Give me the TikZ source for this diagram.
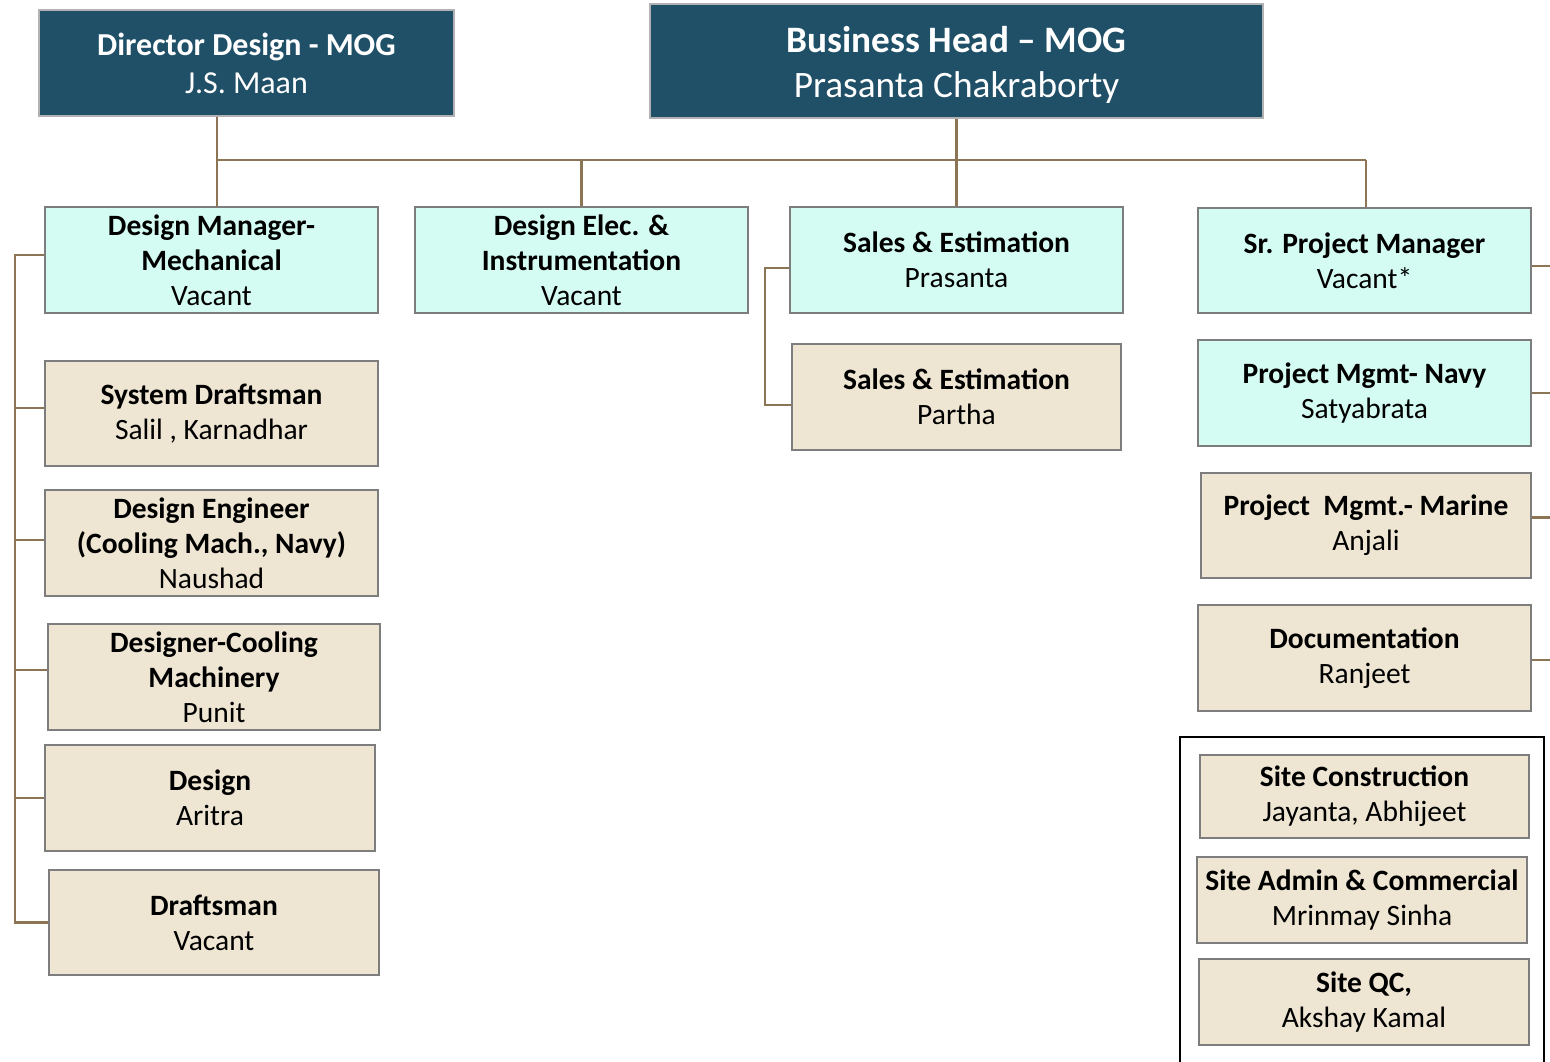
\documentclass[tikz,border=0pt]{standalone}
\usepackage{fontspec}
\setmainfont{Carlito}
\definecolor{hdrfill}{RGB}{31,80,104}
\definecolor{cyanfill}{RGB}{212,252,242}
\definecolor{tanfill}{RGB}{238,230,211}
\definecolor{linec}{RGB}{140,117,85}
\definecolor{boxline}{RGB}{125,125,125}
\tikzset{
  base/.style={draw=boxline, line width=1.5pt, inner sep=0pt, align=center,
    font=\fontsize{29.5}{35}\selectfont, text=black},
  cyanbox/.style={base, fill=cyanfill},
  tanbox/.style={base, fill=tanfill},
  headbox/.style={base, fill=hdrfill, text=white, draw=gray!60},
  conn/.style={draw=linec, line width=2.8pt},
}
\begin{document}
\begin{tikzpicture}[x=1pt,y=-1pt]
\useasboundingbox (0,0) rectangle (1550,1062);
% headers
\node[headbox, minimum width=415pt, minimum height=106pt, font=\fontsize{32}{38}\selectfont] (dir) at (246.5,63)
  {\textbf{Director Design - MOG}\\J.S. Maan};
\node[headbox, minimum width=613pt, minimum height=114pt, font=\fontsize{37.3}{45}\selectfont] (bh) at (956.5,61)
  {\rule{0pt}{34pt}\textbf{Business Head – MOG}\\Prasanta Chakraborty};
% second row
\node[cyanbox, minimum width=333pt, minimum height=106pt] (dm) at (211.5,260)
  {\textbf{Design Manager-}\\\textbf{Mechanical}\\Vacant};
\node[cyanbox, minimum width=333pt, minimum height=106pt] (de) at (581.5,260)
  {\textbf{Design Elec. \&}\\\textbf{Instrumentation}\\Vacant};
\node[cyanbox, minimum width=333pt, minimum height=106pt] (sp) at (956.5,260)
  {\textbf{Sales \& Estimation}\\Prasanta};
\node[tanbox, minimum width=329pt, minimum height=106pt] (sa) at (956.5,397)
  {\textbf{Sales \& Estimation}\\Partha};
\node[cyanbox, minimum width=333pt, minimum height=105pt] (spm) at (1364.5,260.5)
  {\textbf{Sr. Project Manager}\\Vacant*};
\node[cyanbox, minimum width=333pt, minimum height=106pt] (pn) at (1364.5,393)
  {\textbf{Project Mgmt- Navy}\\Satyabrata};
\node[tanbox, minimum width=330pt, minimum height=105pt] (pm) at (1366,525.5)
  {\textbf{Project \ Mgmt.- Marine}\\Anjali};
\node[tanbox, minimum width=333pt, minimum height=106pt] (doc) at (1364.5,658)
  {\textbf{Documentation}\\Ranjeet};
% site frame
\draw[black, line width=2.5pt] (1180,1064) -- (1180,737) -- (1544,737) -- (1544,1064);
\node[tanbox, minimum width=329pt, minimum height=83pt] (sc) at (1364.5,796.5)
  {\textbf{Site Construction}\\Jayanta, Abhijeet};
\node[tanbox, minimum width=330pt, minimum height=86pt] (sadm) at (1362,900)
  {\textbf{Site Admin \& Commercial}\\Mrinmay Sinha};
\node[tanbox, minimum width=330pt, minimum height=86pt] (sqc) at (1364,1002)
  {\textbf{Site QC,}\\Akshay Kamal};
% left column
\node[tanbox, minimum width=333pt, minimum height=105pt] (sd) at (211.5,413.5)
  {\textbf{System Draftsman}\\Salil , Karnadhar};
\node[tanbox, minimum width=333pt, minimum height=106pt] (den) at (211.5,543)
  {\textbf{Design Engineer}\\\textbf{(Cooling Mach., Navy)}\\Naushad};
\node[tanbox, minimum width=332pt, minimum height=106pt] (dc) at (214,677)
  {\textbf{Designer-Cooling}\\\textbf{Machinery}\\Punit};
\node[tanbox, minimum width=330pt, minimum height=106pt] (da) at (210,798)
  {\textbf{Design}\\Aritra};
\node[tanbox, minimum width=330pt, minimum height=105pt] (dr) at (214,922.5)
  {\textbf{Draftsman}\\Vacant};
% top connectors
\coordinate (busL) at (217,160);
\coordinate (busR) at (1366,160);
\coordinate (dmtop) at (217,207);
\draw[conn] (busL) -- (busR);
\draw[conn] (dir.south -| busL) -- (dmtop);
\draw[conn] (bh.south) -- (sp.north);
\draw[conn] (de.north |- busL) -- (de.north);
\draw[conn] (busR) -- (busR |- spm.north);
% left bus
\coordinate (lb) at (15,255);
\draw[conn] ([yshift=5pt]dm.west) -- (lb) -- (lb |- dr.west) -- (dr.west);
\draw[conn] ([yshift=5.5pt]sd.west -| lb) -- ([yshift=5.5pt]sd.west);
\draw[conn] ([yshift=3pt]den.west -| lb) -- ([yshift=3pt]den.west);
\draw[conn] ([yshift=7pt]dc.west -| lb) -- ([yshift=7pt]dc.west);
\draw[conn] (lb |- da.west) -- (da.west);
% sales bus
\coordinate (sb) at (765,268);
\coordinate (sb2) at (765,405);
\draw[conn] ([yshift=-8pt]sp.west) -- (sb) -- (sb2) -- (sb2 -| sa.west);
% right stubs
\coordinate (rb) at (1552,0);
\draw[conn] ([yshift=-5.5pt]spm.east) -- ++(22,0);
\draw[conn] (pn.east) -- (rb |- pn.east);
\draw[conn] ([yshift=8pt]pm.east) -- ++(22,0);
\draw[conn] ([yshift=-2pt]doc.east) -- ++(22,0);
\end{tikzpicture}
\end{document}
